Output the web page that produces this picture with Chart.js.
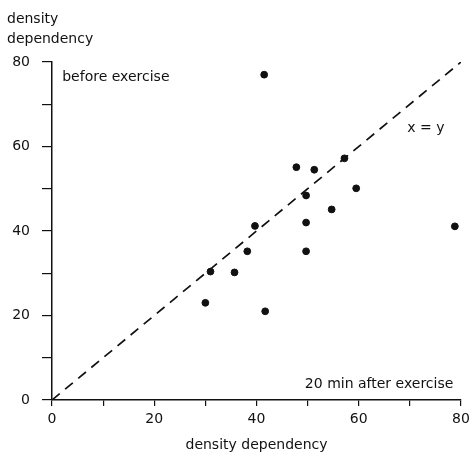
<!DOCTYPE html>
<html>
<head>
<meta charset="utf-8">
<script src="https://cdn.jsdelivr.net/npm/chart.js@4/dist/chart.umd.min.js"></script>
<style>
  html, body { margin: 0; padding: 0; background: #fff; }
  #wrap { width: 472px; height: 454px; }
</style>
</head>
<body>
<div id="wrap"><canvas id="densityChart"></canvas></div>
<script>
// density dependency: 20 min after exercise (x) vs before exercise (y)
const afterExercise  = [41.5, 47.8, 51.3, 57.2, 59.5, 49.7, 54.7, 39.7, 49.7, 38.2, 49.7, 31.0, 35.7, 30.0, 41.7, 78.8];
const beforeExercise = [77.0, 55.1, 54.5, 57.2, 50.1, 48.4, 45.1, 41.2, 42.0, 35.2, 35.2, 30.4, 30.2, 23.0, 21.0, 41.1];
const identityX = [0, 80];
const tickLabels = [0, 20, 40, 60, 80];

const FONT = "'DejaVu Sans', sans-serif";

const points = afterExercise.map((x, i) => ({ x: x, y: beforeExercise[i] }));
const identity = identityX.map(v => ({ x: v, y: v }));

// free text placed on the axes in data units
const textPlugin = {
    id: 'notes',
    afterDraw(chart) {
        const ctx = chart.ctx;
        const xs = chart.scales.x, ys = chart.scales.y;
        ctx.save();
        ctx.fillStyle = '#111';
        ctx.font = '14px ' + FONT;
        ctx.textBaseline = 'alphabetic';
        ctx.textAlign = 'left';
        ctx.fillText('density', 7, 23);
        ctx.fillText('dependency', 7, 43);
        ctx.fillText('before exercise', xs.getPixelForValue(2), ys.getPixelForValue(75.5));
        ctx.fillText('x = y', xs.getPixelForValue(69.5), ys.getPixelForValue(63.5));
        ctx.textAlign = 'right';
        ctx.fillText('20 min after exercise', xs.getPixelForValue(78.5), ys.getPixelForValue(2.8));
        ctx.restore();
    }
};

new Chart(document.getElementById('densityChart').getContext('2d'), {
    type: 'scatter',
    data: {
        datasets: [{
            label: 'subjects',
            data: points,
            backgroundColor: '#111',
            borderColor: '#111',
            pointRadius: 3.4,
            pointHoverRadius: 3.4
        }, {
            label: 'x = y',
            type: 'line',
            data: identity,
            borderColor: '#111',
            borderWidth: 1.7,
            borderDash: [10, 7],
            pointRadius: 0,
            fill: false
        }]
    },
    plugins: [textPlugin],
    options: {
        responsive: true,
        maintainAspectRatio: false,
        animation: false,
        layout: { padding: { top: 62, right: 11, left: 0, bottom: 0 } },
        plugins: {
            legend: { display: false },
            tooltip: { enabled: false }
        },
        scales: {
            x: {
                type: 'linear',
                min: 0,
                max: 80,
                afterBuildTicks(scale) {
                    scale.ticks = [];
                    for (let v = 0; v <= 80; v += 10) scale.ticks.push({ value: v });
                },
                afterFit(scale) {
                    scale.height = 54;
                    // let the "80" label hang past the plot edge
                    scale.paddingRight = 0;
                    scale.paddingLeft = 0;
                },
                border: { display: true, color: '#111', width: 1.5 },
                grid: { display: true, drawOnChartArea: false, drawTicks: true, tickLength: 6, color: '#111', lineWidth: 1.2 },
                ticks: {
                    autoSkip: false,
                    maxRotation: 0,
                    padding: 5,
                    color: '#111',
                    font: { family: FONT, size: 14 },
                    callback: v => tickLabels.includes(v) ? String(v) : ''
                },
                title: {
                    display: true,
                    text: 'density dependency',
                    color: '#111',
                    font: { family: FONT, size: 14 },
                    padding: { top: 2, bottom: 0 }
                }
            },
            y: {
                type: 'linear',
                min: 0,
                max: 80,
                afterBuildTicks(scale) {
                    scale.ticks = [];
                    for (let v = 0; v <= 80; v += 10) scale.ticks.push({ value: v });
                },
                afterFit(scale) { scale.width = 52; },
                border: { display: true, color: '#111', width: 1.5 },
                grid: { display: true, drawOnChartArea: false, drawTicks: true, tickLength: 10, color: '#111', lineWidth: 1.2 },
                ticks: {
                    autoSkip: false,
                    padding: 12,
                    color: '#111',
                    font: { family: FONT, size: 14 },
                    callback: v => tickLabels.includes(v) ? String(v) : ''
                }
            }
        }
    }
});
</script>
</body>
</html>
